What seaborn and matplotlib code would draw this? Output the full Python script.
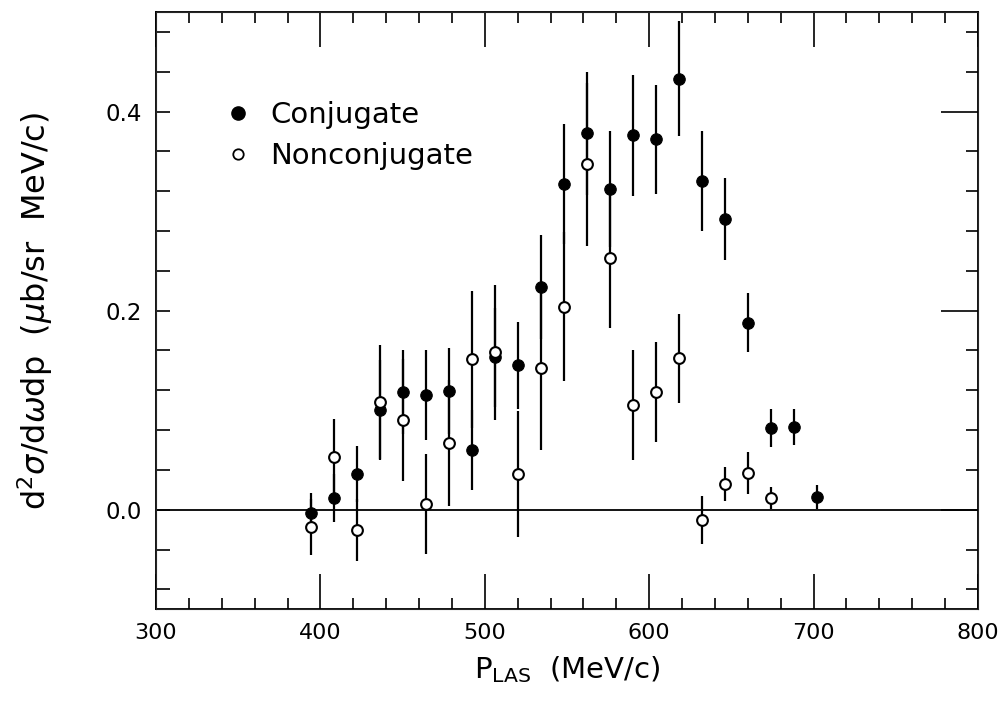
import numpy as np
import pandas as pd
import matplotlib
matplotlib.use("Agg")
import matplotlib.pyplot as plt
import seaborn as sns
from matplotlib.ticker import MultipleLocator, FixedLocator, NullFormatter
from matplotlib.lines import Line2D

# ---- data ----
p_conj = [394, 408, 422, 436, 450, 464, 478, 492, 506, 520, 534, 548, 562, 576,
          590, 604, 618, 632, 646, 660, 674, 688, 702]
y_conj = [-0.003, 0.012, 0.036, 0.100, 0.118, 0.115, 0.119, 0.060, 0.153, 0.145,
          0.224, 0.327, 0.378, 0.322, 0.376, 0.372, 0.433, 0.330, 0.292, 0.188,
          0.082, 0.083, 0.013]
e_conj = [0.020, 0.024, 0.028, 0.050, 0.042, 0.045, 0.043, 0.040, 0.050, 0.044,
          0.052, 0.060, 0.062, 0.058, 0.061, 0.055, 0.058, 0.050, 0.041, 0.030,
          0.019, 0.018, 0.012]

p_non = [394, 408, 422, 436, 450, 464, 478, 492, 506, 520, 534, 548, 562, 576,
         590, 604, 618, 632, 646, 660, 674]
y_non = [-0.017, 0.053, -0.020, 0.108, 0.090, 0.006, 0.067, 0.151, 0.158, 0.036,
         0.142, 0.204, 0.347, 0.253, 0.105, 0.118, 0.152, -0.010, 0.026, 0.037,
         0.012]
e_non = [0.028, 0.038, 0.031, 0.057, 0.061, 0.050, 0.063, 0.069, 0.068, 0.063,
         0.082, 0.075, 0.082, 0.070, 0.055, 0.050, 0.045, 0.024, 0.017, 0.021,
         0.011]

x_ticks = [300, 400, 500, 600, 700, 800]
y_ticks = [0.0, 0.2, 0.4]

df_c = pd.DataFrame({"p": p_conj, "y": y_conj, "e": e_conj})
df_n = pd.DataFrame({"p": p_non, "y": y_non, "e": e_non})

sns.set_style("ticks")
plt.rcParams["font.family"] = ["DejaVu Sans"]
plt.rcParams["mathtext.fontset"] = "dejavusans"
plt.rcParams["text.color"] = "black"
plt.rcParams["axes.labelcolor"] = "black"
plt.rcParams["xtick.color"] = "black"
plt.rcParams["ytick.color"] = "black"

fig = plt.figure(figsize=(10, 7.02), dpi=100)
ax = fig.add_axes([0.156, 0.132, 0.822, 0.851])

# error bars
ax.vlines(df_c["p"], df_c["y"] - df_c["e"], df_c["y"] + df_c["e"], color="black", lw=1.6, zorder=2)
ax.vlines(df_n["p"], df_n["y"] - df_n["e"], df_n["y"] + df_n["e"], color="black", lw=1.6, zorder=2)

ax.axhline(0.0, color="black", lw=1.3, zorder=1)

sns.scatterplot(data=df_c, x="p", y="y", ax=ax, marker="o", s=68, color="black",
                edgecolor="black", linewidth=0.8, zorder=3, legend=False)
sns.scatterplot(data=df_n, x="p", y="y", ax=ax, marker="o", s=60, color="white",
                edgecolor="black", linewidth=1.5, zorder=4, legend=False)

ax.set_xlim(300, 800)
ax.set_ylim(-0.1, 0.5)
ax.xaxis.set_major_locator(FixedLocator(x_ticks))
ax.xaxis.set_minor_locator(MultipleLocator(20))
ax.yaxis.set_major_locator(FixedLocator(y_ticks))
ax.yaxis.set_minor_locator(MultipleLocator(0.04))
ax.set_xticklabels([str(v) for v in x_ticks])
ax.set_yticklabels([f"{v:.1f}" for v in y_ticks])

ax.tick_params(which="both", direction="in", top=True, right=False, color="black", width=1.2)
ax.tick_params(axis="x", which="major", length=25, labelsize=16, pad=10)
ax.tick_params(axis="x", which="minor", length=8)
ax.tick_params(axis="y", which="both", length=10, labelsize=16.5, pad=10)
for s in ax.spines.values():
    s.set_color("black")
    s.set_linewidth(1.3)

# right-hand ticks (long majors, short minors)
ax2 = ax.twinx()
ax2.set_ylim(ax.get_ylim())
ax2.yaxis.set_major_locator(FixedLocator(y_ticks))
ax2.yaxis.set_minor_locator(MultipleLocator(0.04))
ax2.yaxis.set_major_formatter(NullFormatter())
ax2.tick_params(which="both", direction="in", color="black", width=1.2)
ax2.tick_params(which="major", length=27)
ax2.tick_params(which="minor", length=9)
ax2.grid(False)

ax.set_xlabel(r"P$_{\mathrm{LAS}}$  (MeV/c)", fontsize=21, labelpad=8)
ax.set_ylabel(r"d$^2\sigma$/d$\omega$dp  ($\mu$b/sr  MeV/c)", fontsize=23)
ax.yaxis.set_label_coords(-0.123, 0.5)

handles = [
    Line2D([], [], ls="none", marker="o", markersize=9.5, markerfacecolor="black", markeredgecolor="black"),
    Line2D([], [], ls="none", marker="o", markersize=7.5, markerfacecolor="white", markeredgecolor="black", markeredgewidth=1.3),
]
ax.legend(handles, ["Conjugate", "Nonconjugate"], loc="upper left", bbox_to_anchor=(0.05, 0.895),
          frameon=False, fontsize=21, handletextpad=0.6, labelspacing=0.45, handlelength=1.0)

fig.savefig("out.png", dpi=100)
